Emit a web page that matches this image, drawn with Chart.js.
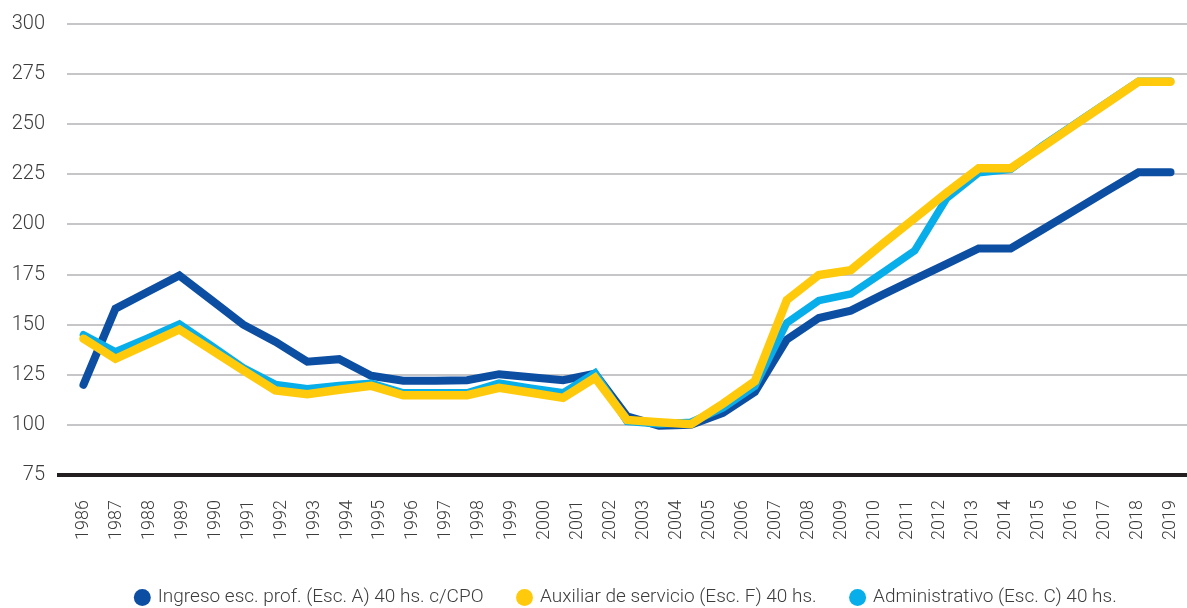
<!DOCTYPE html>
<html>
<head>
<meta charset="utf-8">
<script src="https://cdn.jsdelivr.net/npm/chart.js@4/dist/chart.umd.min.js"></script>
<style>
html,body{margin:0;padding:0;background:#ffffff;}
#wrap{width:1187px;height:608px;position:relative;}
</style>
</head>
<body>
<div id="wrap"><canvas id="c"></canvas></div>
<script>
// Tick labels of the category axis
const years = ["1986","1987","1988","1989","1990","1991","1992","1993","1994","1995","1996","1997",
  "1998","1999","2000","2001","2002","2003","2004","2005","2006","2007","2008","2009","2010","2011",
  "2012","2013","2014","2015","2016","2017","2018","2019"];

// Series (35 observations spread over the 34 year labels)
const ingreso = [120,158,166.3,174.5,162.3,150,141.5,131.5,132.8,124.5,122,122,122.3,125.3,123.8,122.3,
  125.5,104.3,99.6,100,106,116.5,142.6,153.3,157,165,172.7,180.3,188,188,197.5,207,216.6,226,226];
const auxiliar = [143,133,140.3,147.6,137.4,127.2,117.2,115.3,117.5,119.5,114.8,114.8,114.8,118.5,116,113.5,
  123.5,102.5,101.3,100.3,110.5,121.8,162.3,174.8,177.2,190.4,203.1,215.9,228,228,238.8,249.6,260.4,271.2,271.2];
const administrativo = [145,136.5,143.3,150.3,139.5,128.5,120.2,118,119.7,120.8,116,116,116,120.8,118.3,116,
  126,101.7,100.5,101.3,108.5,119.3,150.9,162,165.3,176,187,213,225.8,227.5,239.3,250,260.8,271.5,271.5];

const seriesNames = ["Ingreso esc. prof. (Esc. A) 40 hs. c/CPO",
  "Auxiliar de servicio (Esc. F) 40 hs.",
  "Administrativo (Esc. C) 40 hs."];
const yMin = 75, yMax = 300, yStep = 25;

const COL_BLUE = '#0c4ea2', COL_YELLOW = '#ffca0c', COL_CYAN = '#08aeea';
const TXT = '#3d3d3d', GRID = '#c6c6c9', AXIS = '#231f20';
const FONT = "Roboto, 'Liberation Sans', sans-serif";

const toXY = arr => arr.map((v, i) => ({x: i, y: v}));
const lastIdx = ingreso.length - 1;
const half = lastIdx / (years.length - 1) / 2;

const legendShift = {
  id: 'legendShift',
  afterLayout(chart) {
    const l = chart.legend;
    if (!l) return;
    const dx = 33, dy = 9;
    l.left += dx; l.right += dx; l.top += dy; l.bottom += dy;
  }
};

new Chart(document.getElementById('c'), {
  type: 'line',
  data: {
    datasets: [
      {label: seriesNames[0], data: toXY(ingreso), borderColor: COL_BLUE, backgroundColor: COL_BLUE,
       borderWidth: 8, order: 2, xAxisID: 'x', yAxisID: 'y'},
      {label: seriesNames[1], data: toXY(auxiliar), borderColor: COL_YELLOW, backgroundColor: COL_YELLOW,
       borderWidth: 8.5, order: 0, xAxisID: 'x', yAxisID: 'y'},
      {label: seriesNames[2], data: toXY(administrativo), borderColor: COL_CYAN, backgroundColor: COL_CYAN,
       borderWidth: 7.5, order: 1, xAxisID: 'x', yAxisID: 'y'}
    ]
  },
  options: {
    responsive: true,
    maintainAspectRatio: false,
    animation: false,
    devicePixelRatio: 1,
    layout: {padding: {top: 22, left: 0, right: 0, bottom: 0}},
    elements: {
      line: {tension: 0, borderCapStyle: 'round', borderJoinStyle: 'miter', fill: false},
      point: {radius: 0, hoverRadius: 0}
    },
    plugins: {
      legend: {
        position: 'bottom',
        align: 'center',
        labels: {
          sort: (a, b) => a.datasetIndex - b.datasetIndex,
          generateLabels: chart => Chart.defaults.plugins.legend.labels.generateLabels(chart)
            .map(it => Object.assign(it, {lineWidth: 0})),
          usePointStyle: true,
          pointStyle: 'circle',
          boxWidth: 12,
          boxHeight: 12,
          padding: 35,
          color: TXT,
          font: {family: FONT, size: 19, weight: '300'}
        }
      },
      tooltip: {enabled: false}
    },
    scales: {
      x: {
        type: 'linear',
        display: false,
        min: -half,
        max: lastIdx + half
      },
      years: {
        type: 'category',
        axis: 'x',
        position: 'bottom',
        labels: years,
        offset: true,
        grid: {display: false, drawTicks: false},
        border: {display: false},
        ticks: {
          autoSkip: false, minRotation: 90, maxRotation: 90, padding: 25,
          color: TXT, font: {family: FONT, size: 18, weight: '300'}
        },
        afterFit: s => { s.height = 69; s.paddingLeft = 0; s.paddingRight = 0; }
      },
      y: {
        min: yMin,
        max: yMax,
        border: {display: false},
        ticks: {stepSize: yStep, padding: 12, color: TXT, font: {family: FONT, size: 20, weight: '300'}},
        grid: {
          color: c => (c.tick && c.tick.value === yMin) ? AXIS : GRID,
          lineWidth: c => (c.tick && c.tick.value === yMin) ? 4 : 2,
          tickLength: 10,
          tickColor: c => (c.tick && c.tick.value === yMin) ? AXIS : 'rgba(0,0,0,0)',
          tickWidth: c => (c.tick && c.tick.value === yMin) ? 4 : 0
        },
        afterFit: s => { s.width = 67; }
      }
    }
  },
  plugins: [legendShift]
});
</script>
</body>
</html>
